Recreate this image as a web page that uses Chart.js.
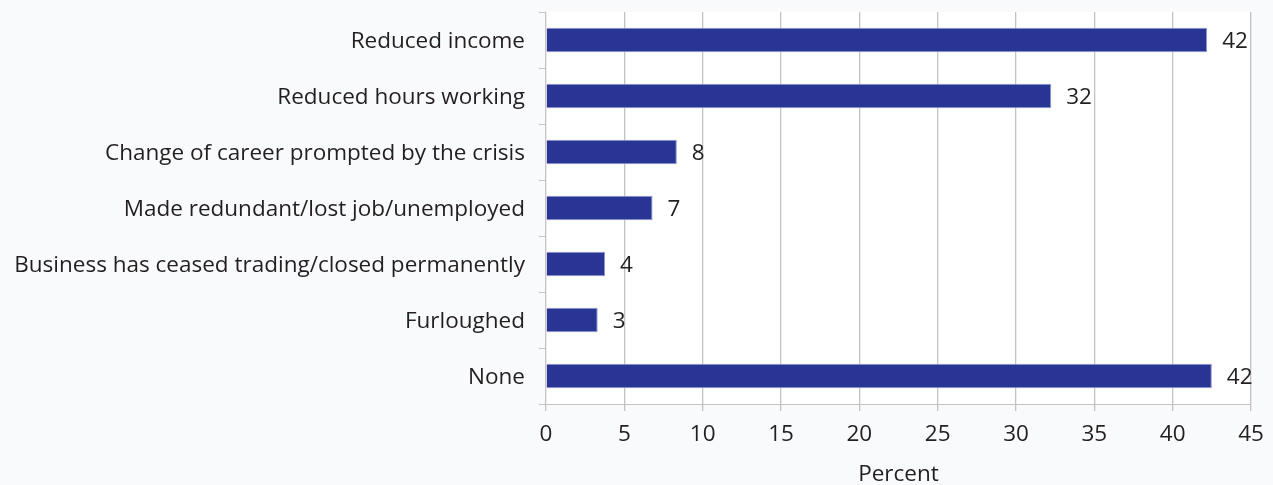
<!DOCTYPE html>
<html>
<head>
<meta charset="utf-8">
<script src="https://cdn.jsdelivr.net/npm/chart.js@4"></script>
<style>
  html, body { margin: 0; padding: 0; background: #f9fafc; }
  #wrap { width: 1273px; height: 485px; position: relative; }
</style>
</head>
<body>
<div id="wrap"><canvas id="c" width="1273" height="485"></canvas></div>
<script>
const categories = [
  "Reduced income",
  "Reduced hours working",
  "Change of career prompted by the crisis",
  "Made redundant/lost job/unemployed",
  "Business has ceased trading/closed permanently",
  "Furloughed",
  "None"
];
const values = [42.2, 32.25, 8.35, 6.8, 3.77, 3.3, 42.5];
const valueLabels = ["42", "32", "8", "7", "4", "3", "42"];
const xTicks = [0, 5, 10, 15, 20, 25, 30, 35, 40, 45];
const axisTitle = "Percent";

const FONT = "'Open Sans', Lato, sans-serif";
const FS = 22.5;
const TEXT = "#231f20";

const plotBg = {
  id: 'plotBg',
  beforeDraw(chart) {
    const { ctx, chartArea: a } = chart;
    ctx.save();
    ctx.fillStyle = '#ffffff';
    ctx.fillRect(a.left, a.top, a.right - a.left, a.bottom - a.top);
    ctx.restore();
  }
};

const valueLabelPlugin = {
  id: 'valueLabels',
  afterDatasetsDraw(chart) {
    const { ctx } = chart;
    const meta = chart.getDatasetMeta(0);
    ctx.save();
    ctx.font = FS + "px " + FONT;
    ctx.fillStyle = TEXT;
    ctx.textAlign = 'left';
    ctx.textBaseline = 'middle';
    meta.data.forEach((bar, i) => {
      ctx.fillText(valueLabels[i], bar.x + 15, bar.y + 2);
    });
    ctx.restore();
  }
};

new Chart(document.getElementById('c'), {
  type: 'bar',
  data: {
    labels: categories,
    datasets: [{
      data: values,
      backgroundColor: '#283593',
      borderColor: '#8c96d0',
      borderWidth: 1,
      categoryPercentage: 1.0,
      barPercentage: 0.44
    }]
  },
  options: {
    indexAxis: 'y',
    responsive: false,
    animation: false,
    layout: { padding: { top: 12, right: 22, left: 0, bottom: 0 } },
    plugins: { legend: { display: false }, tooltip: { enabled: false } },
    scales: {
      x: {
        min: 0, max: 45,
        afterBuildTicks(scale) { scale.ticks = xTicks.map(v => ({ value: v })); },
        afterFit(scale) { scale.height = 81; scale.paddingLeft = 0; scale.paddingRight = 0; },
        grid: { color: '#c6c1c1', lineWidth: 1.3, tickLength: 7, drawTicks: true },
        border: { display: true, color: '#c6c1c1' },
        ticks: { font: { size: FS, family: FONT }, color: TEXT, padding: 10 },
        title: { display: true, text: axisTitle, font: { size: FS, family: FONT }, color: TEXT, padding: { top: 4, bottom: -3 } }
      },
      y: {
        afterFit(scale) { scale.width = 546; scale.paddingTop = 0; scale.paddingBottom = 0; },
        grid: { drawOnChartArea: false, color: '#c6c1c1', tickLength: 7, offset: true },
        border: { display: false },
        ticks: { font: { size: FS, family: FONT }, color: TEXT, padding: 14, labelOffset: 2 }
      }
    }
  },
  plugins: [plotBg, valueLabelPlugin]
});
</script>
</body>
</html>
